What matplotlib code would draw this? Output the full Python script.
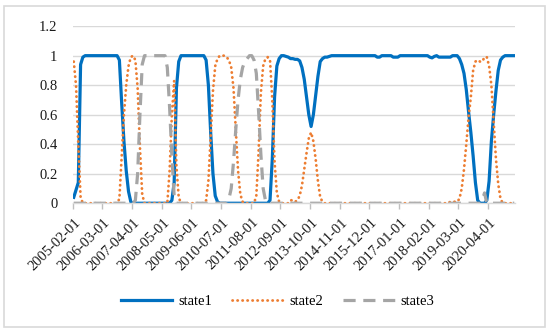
import matplotlib
matplotlib.use('agg')
import matplotlib.pyplot as plt
from matplotlib.patches import Rectangle
from matplotlib.ticker import FixedLocator, NullFormatter
import pandas as pd

# monthly regime probabilities, 2005-02 .. 2021-03 (194 months)
start_month = '2005-02-01'
label_step = 13

state1 = [
    0.04, 0.09, 0.14, 0.94, 0.99, 1, 1, 1, 1, 1,
    1, 1, 1, 1, 1, 1, 1, 1, 1, 1,
    0.97, 0.68, 0.42, 0.22, 0.08, 0.01, 0, 0, 0, 0,
    0, 0, 0, 0, 0, 0, 0, 0, 0, 0,
    0, 0, 0, 0.02, 0.14, 0.78, 0.96, 1, 1, 1,
    1, 1, 1, 1, 1, 1, 1, 1, 0.97, 0.8,
    0.48, 0.2, 0.05, 0.01, 0, 0, 0, 0, 0, 0,
    0, 0, 0, 0, 0, 0, 0, 0, 0, 0,
    0, 0, 0, 0, 0, 0, 0.02, 0.3, 0.72, 0.93,
    0.98, 1, 1, 0.995, 0.99, 0.98, 0.98, 0.975, 0.975, 0.965,
    0.92, 0.84, 0.72, 0.6, 0.52, 0.6, 0.73, 0.86, 0.96, 0.98,
    0.99, 0.99, 0.995, 1, 1, 1, 1, 1, 1, 1,
    1, 1, 1, 1, 1, 1, 1, 1, 1, 1,
    1, 1, 1, 0.99, 0.99, 1, 1, 1, 1, 1,
    0.99, 0.99, 0.99, 1, 1, 1, 1, 1, 1, 1,
    1, 1, 1, 1, 1, 1, 0.99, 0.985, 0.995, 1,
    0.99, 0.99, 0.99, 0.99, 0.99, 0.99, 1, 1, 1, 0.98,
    0.94, 0.88, 0.77, 0.62, 0.48, 0.32, 0.14, 0.02, 0, 0,
    0, 0.02, 0.15, 0.42, 0.6, 0.76, 0.9, 0.97, 0.99, 1,
    1, 1, 1, 1,
]

state2 = [
    0.96, 0.8, 0.4, 0.04, 0, 0, 0, 0, 0, 0,
    0, 0, 0, 0, 0, 0, 0, 0, 0, 0,
    0.03, 0.32, 0.6, 0.8, 0.93, 0.99, 1, 0.97, 0.78, 0.38,
    0.06, 0, 0, 0, 0, 0, 0, 0, 0, 0,
    0, 0, 0.22, 0.6, 0.83, 0.25, 0.04, 0, 0, 0,
    0, 0, 0, 0, 0, 0, 0, 0, 0.02, 0.15,
    0.45, 0.76, 0.93, 0.98, 1, 1, 1, 0.99, 0.97, 0.92,
    0.78, 0.5, 0.22, 0.06, 0.01, 0, 0, 0, 0, 0,
    0.05, 0.35, 0.75, 0.93, 0.98, 0.99, 0.97, 0.7, 0.28, 0.07,
    0.01, 0, 0, 0, 0, 0.02, 0.02, 0.01, 0.02, 0.05,
    0.12, 0.23, 0.34, 0.44, 0.48, 0.42, 0.3, 0.15, 0.04, 0.01,
    0, 0, 0, 0, 0, 0, 0, 0, 0, 0,
    0, 0, 0, 0, 0, 0, 0, 0, 0, 0,
    0, 0, 0, 0, 0, 0, 0, 0, 0, 0,
    0, 0, 0, 0, 0, 0, 0, 0, 0, 0,
    0, 0, 0, 0, 0, 0, 0, 0, 0, 0,
    0, 0, 0, 0, 0, 0.01, 0.01, 0.01, 0.01, 0.03,
    0.1, 0.23, 0.4, 0.58, 0.72, 0.9, 0.96, 0.97, 0.96, 0.96,
    0.99, 0.99, 0.93, 0.8, 0.55, 0.3, 0.13, 0.03, 0, 0,
    0, 0, 0, 0,
]

state3 = [
    0, 0, 0, 0, 0, 0, 0, 0, 0, 0,
    0, 0, 0, 0, 0, 0, 0, 0, 0, 0,
    0, 0, 0, 0, 0, 0, 0, 0.02, 0.2, 0.6,
    0.94, 1, 1, 1, 1, 1, 1, 1, 1, 1,
    1, 0.92, 0.65, 0.32, 0.05, 0, 0, 0, 0, 0,
    0, 0, 0, 0, 0, 0, 0, 0, 0, 0,
    0, 0, 0, 0, 0, 0, 0, 0, 0.03, 0.1,
    0.28, 0.5, 0.7, 0.84, 0.92, 0.96, 0.98, 1, 1, 0.97,
    0.88, 0.62, 0.33, 0.1, 0.02, 0, 0, 0, 0, 0,
    0, 0, 0, 0, 0, 0, 0, 0, 0, 0,
    0, 0, 0, 0, 0, 0, 0, 0, 0, 0,
    0, 0, 0, 0, 0, 0, 0, 0, 0, 0,
    0, 0, 0, 0, 0, 0, 0, 0, 0, 0,
    0, 0, 0, 0, 0, 0, 0, 0, 0, 0,
    0, 0, 0, 0, 0, 0, 0, 0, 0, 0,
    0, 0, 0, 0, 0, 0, 0, 0, 0, 0,
    0, 0, 0, 0, 0, 0, 0, 0, 0, 0,
    0, 0, 0, 0, 0, 0, 0, 0, 0, 0.02,
    0.07, 0, 0, 0, 0, 0, 0, 0, 0, 0,
    0, 0, 0, 0,
]

yticks = [0, 0.2, 0.4, 0.6, 0.8, 1, 1.2]
ytick_labels = ['0', '0.2', '0.4', '0.6', '0.8', '1', '1.2']

n = len(state1)
dates = pd.date_range(start_month, periods=n, freq='MS').strftime('%Y-%m-%d')
x = list(range(n))

plt.rcParams['font.family'] = ['Liberation Serif', 'DejaVu Serif']

fig = plt.figure(figsize=(5.5, 3.31), dpi=100)
ax = fig.add_axes([0.132, 0.386, 0.805, 0.535])

ax.plot(x, state1, color='#0070C0', lw=2.3, label='state1', solid_joinstyle='round')
ax.plot(x, state2, color='#ED7D31', lw=2.0, ls=(0, (0.1, 1.7)), dash_capstyle='round', label='state2')
ax.plot(x, state3, color='#A5A5A5', lw=2.3, ls=(0, (3.8, 2.4)), label='state3')

ax.set_xlim(-0.5, n - 0.5)
ax.set_ylim(0, 1.2)
ax.set_yticks(yticks)
ax.set_yticklabels(ytick_labels)
ax.tick_params(axis='y', length=0, pad=11, labelsize=10.5, labelcolor='#1a1a1a')
ax.grid(axis='y', color='#D9D9D9', lw=1)
ax.set_axisbelow(True)

# tick marks between categories, labels on the categories
label_pos = x[::label_step]
ax.xaxis.set_major_locator(FixedLocator([p - 0.5 for p in label_pos]))
ax.xaxis.set_major_formatter(NullFormatter())
ax.tick_params(axis='x', which='major', length=4, color='#BFBFBF', width=1)
ax.xaxis.set_minor_locator(FixedLocator(label_pos))
ax.set_xticklabels([dates[i] for i in label_pos], minor=True, rotation=45,
                   ha='right', rotation_mode='anchor')
ax.tick_params(axis='x', which='minor', length=0, pad=9, labelsize=10.5, labelcolor='#1a1a1a')

for s in ['top', 'right', 'left']:
    ax.spines[s].set_visible(False)
ax.spines['bottom'].set_color('#D9D9D9')
ax.spines['bottom'].set_linewidth(1)

fig.legend(loc='center', bbox_to_anchor=(0.505, 0.09), ncol=3, frameon=False,
           fontsize=10.5, handlelength=3.5, handletextpad=0.4, columnspacing=1.4)

fig.patches.append(Rectangle((0.007, 0.012), 0.984, 0.97, transform=fig.transFigure,
                             fill=False, edgecolor='#D9D9D9', lw=1.2))

plt.savefig('out.png', dpi=100)
plt.close()
